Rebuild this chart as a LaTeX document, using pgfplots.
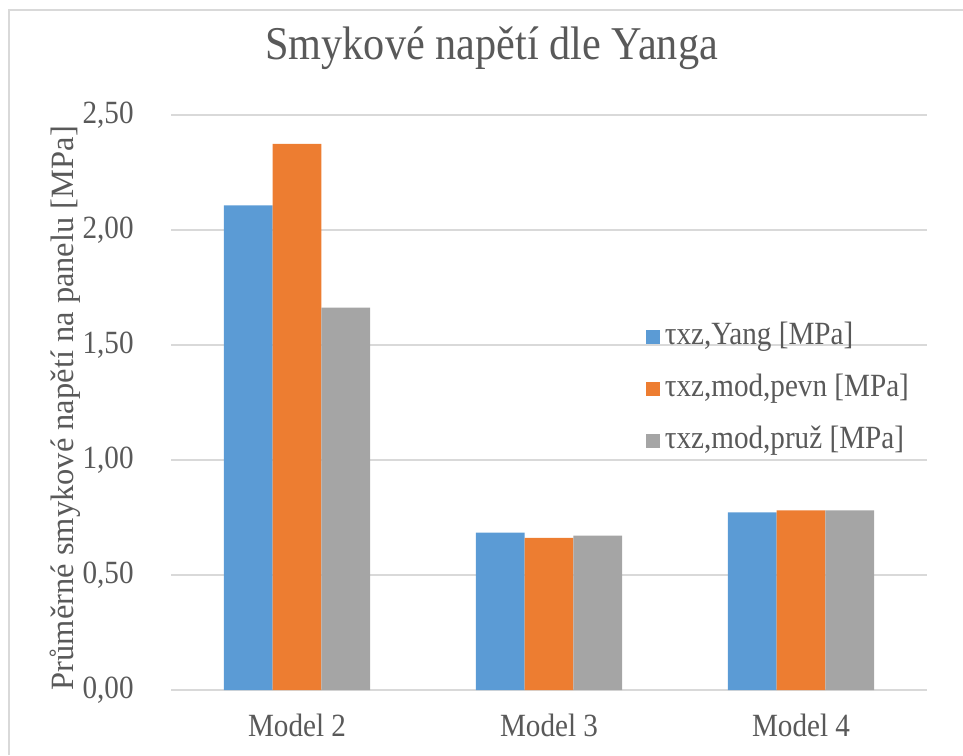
\documentclass[border=0pt]{standalone}
\usepackage{fontspec}
\setmainfont{Liberation Serif}[FakeStretch=0.9]
\newfontfamily\ylabfont{Liberation Serif}
\usepackage{pgfplots}
\pgfplotsset{compat=1.18}

\definecolor{yangc}{HTML}{5B9BD5}
\definecolor{pevnc}{HTML}{ED7D31}
\definecolor{pruzc}{HTML}{A5A5A5}
\definecolor{textc}{HTML}{595959}
\definecolor{gridc}{HTML}{D9D9D9}

\begin{document}
\begin{tikzpicture}
\useasboundingbox (0,0) rectangle (481.5pt,377.5pt);
% chart area frame
\draw[gridc, line width=0.75pt] (4.5pt,0) -- (4.5pt,372.5pt) -- (481.5pt,372.5pt);
\begin{axis}[
  at={(85.5pt,32.5pt)}, anchor=south west,
  scale only axis, width=378pt, height=287.5pt,
  ybar=0pt, bar width=24.35pt,
  xmin=0.5, xmax=3.5, ymin=0, ymax=2.5,
  xtick={1,2,3}, xticklabels={Model 2, Model 3, Model 4},
  ytick={0,0.5,1,1.5,2,2.5},
  axis line style={draw=none},
  major tick length=0pt,
  ymajorgrids, grid style={gridc, line width=0.75pt},
  yticklabel style={
    /pgf/number format/.cd, fixed, fixed zerofill, precision=2, use comma, assume math mode=true,
    /tikz/.cd, anchor=base east, inner sep=0pt, xshift=-18.5pt, yshift=-4.15pt,
    font=\fontsize{16.2pt}{19pt}\selectfont, text=textc},
  xticklabel style={anchor=base, inner sep=0pt, yshift=-23.35pt,
    font=\fontsize{16.2pt}{19pt}\selectfont, text=textc},
  title={Smykové napětí dle Yanga},
  title style={at={(axis description cs:0.424,1)}, anchor=base, inner sep=0pt,
    yshift=21.65pt, font=\fontsize{23.5pt}{28pt}\selectfont, text=textc},
  ylabel={Průměrné smykové napětí na panelu [MPa]},
  ylabel style={at={(axis description cs:-0.140,0.49)}, anchor=center, rotate=0,
    inner sep=0pt, font=\ylabfont\fontsize{16.25pt}{19pt}\selectfont, text=textc},
  legend style={at={(axis description cs:0.628,0.64)}, anchor=north west,
    draw=none, fill=none, inner sep=0pt, row sep=11.5pt, column sep=2.5pt,
    font=\fontsize{16.2pt}{19pt}\selectfont, text=textc,
    nodes={inner sep=0pt, text height=11pt, text depth=3.5pt}},
  legend cell align=left,
  legend image code/.code={\fill[#1] (0pt,-3.4pt) rectangle (6.8pt,3.4pt);},
]
\addplot[fill=yangc, draw=none] coordinates {(1,2.107) (2,0.684) (3,0.772)};
\addplot[fill=pevnc, draw=none] coordinates {(1,2.374) (2,0.661) (3,0.781)};
\addplot[fill=pruzc, draw=none] coordinates {(1,1.662) (2,0.671) (3,0.781)};
\legend{{τxz,Yang [MPa]}, {τxz,mod,pevn [MPa]}, {τxz,mod,pruž [MPa]}}
\end{axis}
\end{tikzpicture}
\end{document}
